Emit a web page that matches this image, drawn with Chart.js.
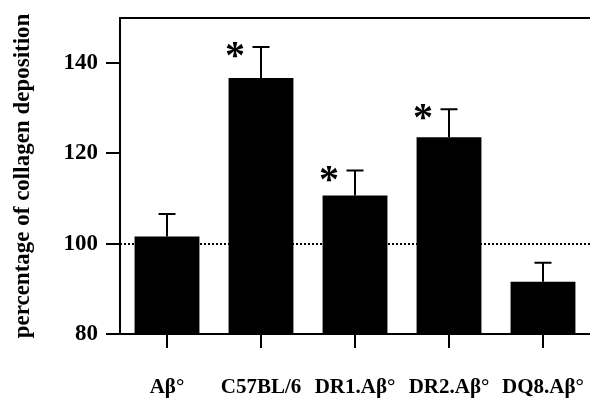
<!DOCTYPE html>
<html>
<head>
<meta charset="utf-8">
<script src="https://cdn.jsdelivr.net/npm/chart.js@4"></script>
<style>
  html, body { margin: 0; padding: 0; background: #fff; }
  #wrap { width: 590px; height: 399px; }
</style>
</head>
<body>
<div id="wrap"><canvas id="chart"></canvas></div>
<script>
// data
const groups = ['Aβ°', 'C57BL/6', 'DR1.Aβ°', 'DR2.Aβ°', 'DQ8.Aβ°'];
const collagen = [101.6, 136.7, 110.7, 123.6, 91.6];
const errUp = [5.0, 6.9, 5.5, 6.2, 4.2];
const significant = [false, true, true, true, false];
const refLine = 100;
const yTicks = [80, 100, 120, 140];

const serif = '"Liberation Serif", "Times New Roman", serif';

const extras = {
  id: 'extras',
  beforeDatasetsDraw(chart) {
    const { ctx, chartArea: a, scales: { y } } = chart;
    ctx.save();
    ctx.strokeStyle = '#000';
    ctx.lineWidth = 2;
    ctx.beginPath();
    ctx.moveTo(a.left - 1, a.top);
    ctx.lineTo(a.right, a.top);
    ctx.stroke();

    // dotted line at 100 %
    const yr = Math.round(y.getPixelForValue(refLine));
    ctx.setLineDash([2, 2]);
    ctx.beginPath();
    ctx.moveTo(a.left, yr);
    ctx.lineTo(a.right, yr);
    ctx.stroke();
    ctx.restore();
  },
  afterDatasetsDraw(chart) {
    const { ctx, scales: { y } } = chart;
    const meta = chart.getDatasetMeta(0);
    ctx.save();
    ctx.strokeStyle = '#000';
    ctx.fillStyle = '#000';
    ctx.lineWidth = 2;
    meta.data.forEach((bar, i) => {
      const x = Math.round(bar.x);
      const top = y.getPixelForValue(collagen[i]);
      const cap = y.getPixelForValue(collagen[i] + errUp[i]);
      ctx.beginPath();
      ctx.moveTo(x, top);
      ctx.lineTo(x, cap);
      ctx.moveTo(x - 8.5, cap);
      ctx.lineTo(x + 8.5, cap);
      ctx.stroke();

      if (significant[i]) {
        ctx.font = 'bold 40px ' + serif;
        ctx.textAlign = 'center';
        ctx.textBaseline = 'alphabetic';
        const m = ctx.measureText('*');
        const yb = cap + 3 + (m.actualBoundingBoxAscent - m.actualBoundingBoxDescent) / 2;
        ctx.fillText('*', x - 26, yb);
      }
    });
    ctx.restore();
  }
};

new Chart(document.getElementById('chart'), {
  type: 'bar',
  data: {
    labels: groups,
    datasets: [{
      data: collagen,
      backgroundColor: '#000',
      borderWidth: 0,
      categoryPercentage: 1,
      barPercentage: 0.69,
    }],
  },
  options: {
    responsive: true,
    maintainAspectRatio: false,
    animation: false,
    layout: { padding: { top: 18, right: 0, left: 0, bottom: 0 } },
    plugins: {
      legend: { display: false },
      tooltip: { enabled: false },
    },
    scales: {
      x: {
        afterFit: s => { s.height = 65; s.paddingLeft = 0; s.paddingRight = 0; },
        grid: {
          offset: false,
          drawOnChartArea: false,
          drawTicks: true,
          tickLength: 14,
          color: '#000',
          lineWidth: 2,
        },
        border: { display: true, color: '#000', width: 2 },
        ticks: {
          color: '#000',
          padding: 27,
          maxRotation: 0,
          font: { family: serif, size: 21, weight: 'bold' },
        },
      },
      y: {
        min: 80,
        max: 150,
        afterFit: s => { s.width = 120; s.paddingTop = 0; s.paddingBottom = 0; },
        afterBuildTicks: s => { s.ticks = yTicks.map(v => ({ value: v })); },
        grid: {
          drawOnChartArea: false,
          drawTicks: true,
          tickLength: 14,
          color: '#000',
          lineWidth: 2,
        },
        border: { display: true, color: '#000', width: 2 },
        ticks: {
          color: '#000',
          padding: 8,
          font: { family: serif, size: 23, weight: 'bold' },
        },
        title: {
          display: true,
          text: 'percentage of collagen deposition',
          color: '#000',
          padding: { top: 9, bottom: 0 },
          font: { family: serif, size: 23, weight: 'bold' },
        },
      },
    },
  },
  plugins: [extras],
});
</script>
</body>
</html>
